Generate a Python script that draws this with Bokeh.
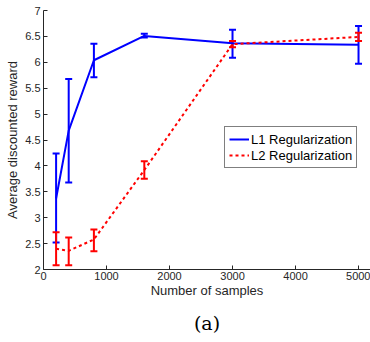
from bokeh.plotting import figure
from bokeh.models import ColumnDataSource, Whisker, TeeHead, FixedTicker, Legend, LegendItem, Title, Range1d
from bokeh.embed import file_html
from bokeh.resources import INLINE

samples = [200, 400, 800, 1600, 3000, 5000]
l1_mean = [3.37, 4.68, 6.04, 6.51, 6.37, 6.34]
l1_low = [2.52, 3.68, 5.71, 6.48, 6.09, 5.97]
l1_high = [4.24, 5.68, 6.36, 6.55, 6.63, 6.70]
l2_mean = [2.40, 2.36, 2.58, 3.92, 6.35, 6.49]
l2_low = [2.08, 2.08, 2.35, 3.75, 6.29, 6.41]
l2_high = [2.72, 2.62, 2.77, 4.09, 6.41, 6.57]
x_ticks = [0, 1000, 2000, 3000, 4000, 5000]
y_ticks = [2, 2.5, 3, 3.5, 4, 4.5, 5, 5.5, 6, 6.5, 7]
y_tick_labels = ["2", "2.5", "3", "3.5", "4", "4.5", "5", "5.5", "6", "6.5", "7"]

FONT = "Liberation Sans"
BLUE = "#0000ff"
RED = "#ff0000"

p = figure(width=370, height=342, output_backend="svg", toolbar_location=None,
           x_range=Range1d(0, 5190), y_range=Range1d(2, 7),
           min_border_left=43, min_border_right=0, min_border_top=10, min_border_bottom=73)
p.outline_line_color = None
p.grid.visible = False
p.background_fill_color = "white"

for ax in (p.xaxis[0], p.yaxis[0]):
    ax.axis_line_color = "#262626"
    ax.major_tick_line_color = "#262626"
    ax.minor_tick_line_color = None
    ax.major_tick_in = 4
    ax.major_tick_out = 0
    ax.major_label_text_font = FONT
    ax.major_label_text_font_size = "11px"
    ax.major_label_text_color = "#262626"
    ax.axis_label_text_font = FONT
    ax.axis_label_text_font_size = "13px"
    ax.axis_label_text_font_style = "normal"
    ax.axis_label_text_color = "#262626"

p.xaxis.ticker = FixedTicker(ticks=x_ticks)
p.yaxis.ticker = FixedTicker(ticks=y_ticks)
p.yaxis.major_label_overrides = {float(t): s for t, s in zip(y_ticks, y_tick_labels)}
p.xaxis.major_label_standoff = 2
p.yaxis.major_label_standoff = 3
p.xaxis.axis_label = "Number of samples"
p.yaxis.axis_label = "Average discounted reward"
p.xaxis.axis_label_standoff = 0
p.yaxis.axis_label_standoff = 2

src1 = ColumnDataSource(dict(x=samples, y=l1_mean, lo=l1_low, hi=l1_high))
src2 = ColumnDataSource(dict(x=samples, y=l2_mean, lo=l2_low, hi=l2_high))

r1 = p.line("x", "y", source=src1, line_color=BLUE, line_width=2)
r2 = p.line("x", "y", source=src2, line_color=RED, line_width=2, line_dash="3 3")

for src, col in ((src1, BLUE), (src2, RED)):
    w = Whisker(base="x", lower="lo", upper="hi", source=src,
                line_color=col, line_width=2,
                upper_head=TeeHead(size=7, line_color=col, line_width=2),
                lower_head=TeeHead(size=7, line_color=col, line_width=2))
    p.add_layout(w)

legend = Legend(items=[LegendItem(label="L1 Regularization", renderers=[r1]),
                       LegendItem(label="L2 Regularization", renderers=[r2])],
                location=(181, 101), label_text_font=FONT, label_text_font_size="13px",
                label_text_color="#000000", border_line_color="#000000", border_line_width=1,
                padding=4, spacing=0, margin=0, glyph_width=20, glyph_height=16,
                label_height=16, label_standoff=2, background_fill_alpha=1)
p.add_layout(legend)

cap = Title(text="(a)", align="center", offset=-15, standoff=18,
            text_font="DejaVu Serif", text_font_size="19px", text_font_style="normal",
            text_color="#000000")
p.add_layout(cap, "below")

open("out.html", "w").write(file_html(p, INLINE))
